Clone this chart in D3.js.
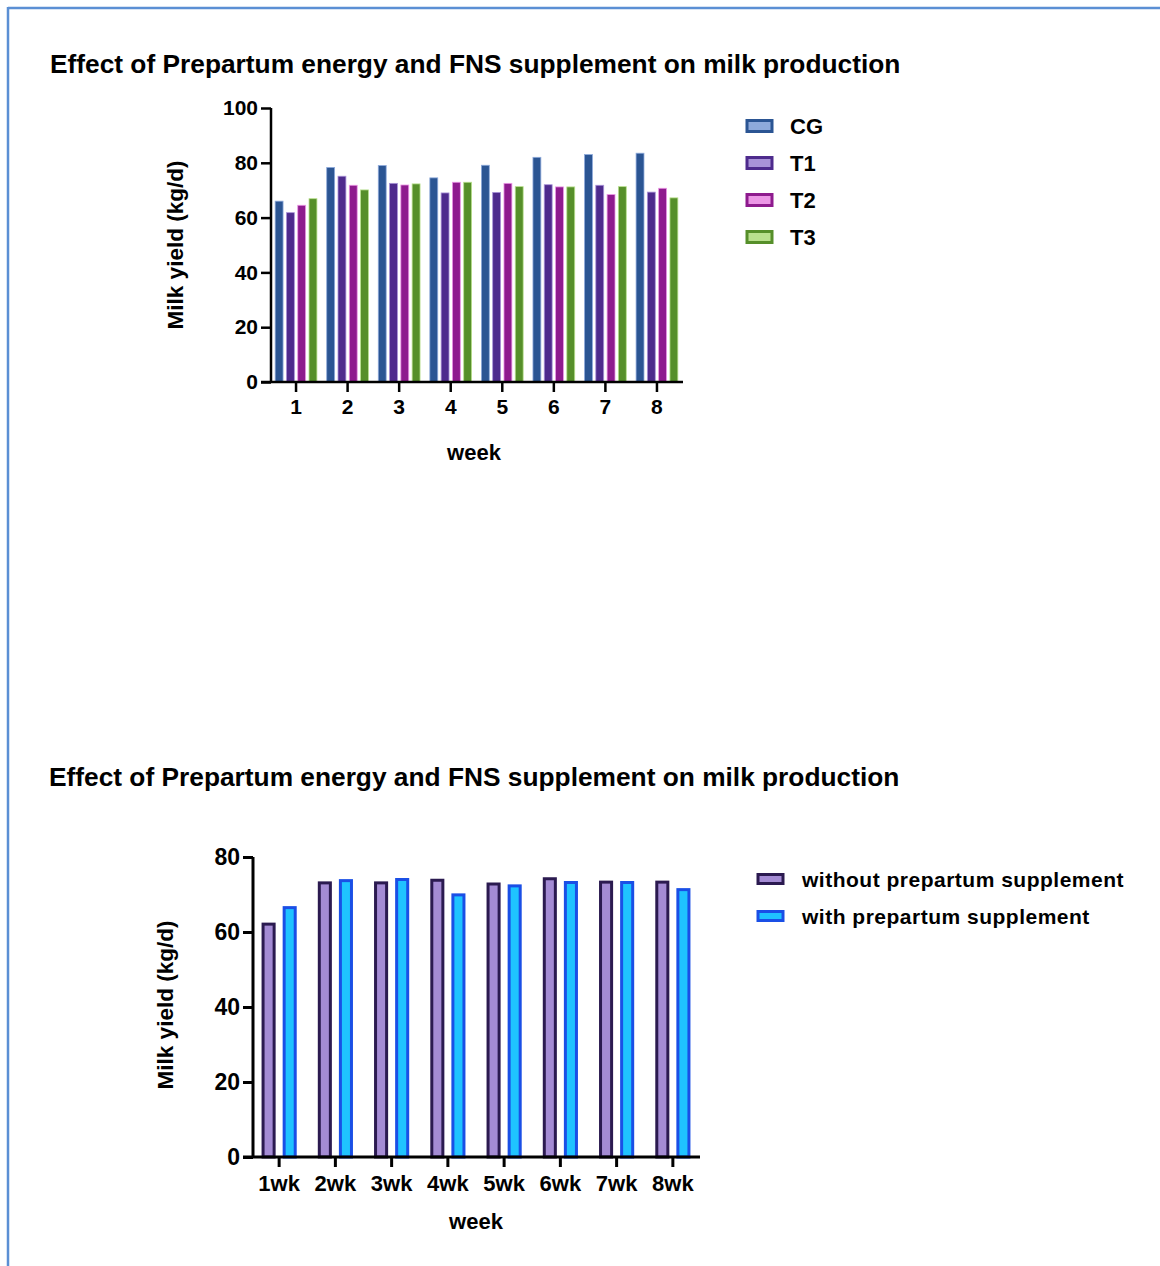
<!DOCTYPE html>
<html><head><meta charset="utf-8">
<script src="https://cdn.jsdelivr.net/npm/d3@7"></script>
<style>
body{margin:0;background:#fff;}
svg{display:block;font-family:"Liberation Sans",Arial,Helvetica,sans-serif;}
</style></head>
<body>
<svg id="c" width="1160" height="1266"></svg>
<script>
const titleText = "Effect of Prepartum energy and FNS supplement on milk production";
const weeks1 = ["1","2","3","4","5","6","7","8"];
const series1 = ["CG","T1","T2","T3"];
const cg = [66, 78.3, 79, 74.5, 79.1, 82, 83, 83.5];
const t1 = [61.8, 75.1, 72.5, 69, 69.2, 72, 71.8, 69.3];
const t2 = [64.5, 71.8, 71.9, 72.9, 72.5, 71.2, 68.4, 70.7];
const t3 = [66.9, 70.1, 72.3, 72.9, 71.3, 71.2, 71.3, 67.2];
const yTicks1 = [0,20,40,60,80,100];

const weeks2 = ["1wk","2wk","3wk","4wk","5wk","6wk","7wk","8wk"];
const series2 = ["without prepartum supplement","with prepartum supplement"];
const without = [62.5, 73.5, 73.5, 74.2, 73.2, 74.6, 73.7, 73.7];
const withSup = [66.9, 74.1, 74.4, 70.3, 72.7, 73.6, 73.6, 71.7];
const yTicks2 = [0,20,40,60,80];

const FONT = "Liberation Sans, Arial, sans-serif";
const svg = d3.select("#c");
const frame = "#5b8fd4";
svg.append("line").attr("x1",8).attr("x2",1160).attr("y1",8).attr("y2",8).attr("stroke",frame).attr("stroke-width",2.5);
svg.append("line").attr("x1",8).attr("x2",8).attr("y1",7).attr("y2",1266).attr("stroke",frame).attr("stroke-width",2.5);

function styleText(sel, size){
  sel.attr("font-size",size).attr("font-weight","bold").attr("fill","#000").attr("font-family",FONT);
}

// ---------- Chart 1 ----------
{
  const fills = ["#2b5593","#4e2b8d","#8e1b8e","#568f2a"];
  const lights = ["#8eaadb","#a993d8","#ec97e6","#b9e08e"];
  const data = [cg,t1,t2,t3];
  svg.append("text").attr("x",50).attr("y",73).attr("font-size",26.3).attr("font-weight","bold").text(titleText);
  const y = d3.scaleLinear().domain([0,100]).range([382,108]);
  const x0 = d3.scaleBand().domain(weeks1).range([270,683]).paddingInner(0.19).paddingOuter(0.1);
  const x1 = d3.scaleBand().domain(series1).range([0,x0.bandwidth()]).paddingInner(0.3);
  const g = svg.append("g");
  weeks1.forEach((w,i)=>{
    series1.forEach((s,j)=>{
      g.append("rect").attr("x",x0(w)+x1(s)).attr("width",x1.bandwidth())
        .attr("y",y(data[j][i])).attr("height",y(0)-y(data[j][i]))
        .attr("fill",fills[j]).attr("stroke",lights[j]).attr("stroke-width",0.8);
    });
  });
  const ya = svg.append("g").attr("transform","translate(271,0)")
    .call(d3.axisLeft(y).tickValues(yTicks1).tickSize(10).tickPadding(3));
  ya.select(".domain").attr("stroke","#000").attr("stroke-width",2.5).attr("d","M0,108V382");
  ya.selectAll(".tick line").attr("stroke","#000").attr("stroke-width",2.5);
  styleText(ya.selectAll("text"), 21);
  const xa = svg.append("g").attr("transform","translate(0,382)")
    .call(d3.axisBottom(x0).tickSize(10).tickPadding(7));
  xa.select(".domain").attr("stroke","#000").attr("stroke-width",2.5).attr("d","M261,0H683");
  xa.selectAll(".tick line").attr("stroke","#000").attr("stroke-width",2.5);
  styleText(xa.selectAll("text"), 21);
  svg.append("text").attr("transform","translate(175,245) rotate(-90)").attr("text-anchor","middle").attr("dy","0.35em")
    .attr("font-size",22.5).attr("font-weight","bold").text("Milk yield (kg/d)");
  svg.append("text").attr("x",474).attr("y",452).attr("dy","0.35em").attr("text-anchor","middle")
    .attr("font-size",22).attr("font-weight","bold").text("week");
  const ly = d3.scalePoint().domain(series1).range([126,237]);
  series1.forEach((s,j)=>{
    svg.append("rect").attr("x",747).attr("y",ly(s)-5.5).attr("width",25).attr("height",11)
      .attr("fill",lights[j]).attr("stroke",fills[j]).attr("stroke-width",3);
    svg.append("text").attr("x",790).attr("y",ly(s)).attr("dy","0.36em").attr("font-size",22).attr("font-weight","bold").text(s);
  });
}

// ---------- Chart 2 ----------
{
  const fills = ["#a48bd4","#1fc3ff"];
  const strokes = ["#2b1a50","#1a4fe6"];
  const data = [without, withSup];
  svg.append("text").attr("x",49).attr("y",786).attr("font-size",26.3).attr("font-weight","bold").text(titleText);
  const y = d3.scaleLinear().domain([0,80]).range([1157,857]);
  const x0 = d3.scaleBand().domain(weeks2).range([252,700]).paddingInner(0.375).paddingOuter(0.17);
  const x1 = d3.scaleBand().domain(series2).range([0,x0.bandwidth()]).paddingInner(0.333);
  const g = svg.append("g");
  weeks2.forEach((w,i)=>{
    series2.forEach((s,j)=>{
      const v = data[j][i];
      g.append("rect").attr("x",x0(w)+x1(s)+1.5).attr("width",x1.bandwidth()-3)
        .attr("y",y(v)+1.5).attr("height",y(0)-y(v)-1.5)
        .attr("fill",fills[j]).attr("stroke",strokes[j]).attr("stroke-width",3);
    });
  });
  const ya = svg.append("g").attr("transform","translate(253,0)")
    .call(d3.axisLeft(y).tickValues(yTicks2).tickSize(10).tickPadding(3));
  ya.select(".domain").attr("stroke","#000").attr("stroke-width",3).attr("d","M0,857V1157");
  ya.selectAll(".tick line").attr("stroke","#000").attr("stroke-width",3);
  styleText(ya.selectAll("text"), 23);
  const xa = svg.append("g").attr("transform","translate(0,1157)")
    .call(d3.axisBottom(x0).tickSize(10).tickPadding(8));
  xa.select(".domain").attr("stroke","#000").attr("stroke-width",3).attr("d","M243,0H700");
  xa.selectAll(".tick line").attr("stroke","#000").attr("stroke-width",3);
  styleText(xa.selectAll("text"), 22);
  svg.append("text").attr("transform","translate(165,1005) rotate(-90)").attr("text-anchor","middle").attr("dy","0.35em")
    .attr("font-size",22.5).attr("font-weight","bold").text("Milk yield (kg/d)");
  svg.append("text").attr("x",476).attr("y",1221).attr("dy","0.35em").attr("text-anchor","middle")
    .attr("font-size",22).attr("font-weight","bold").text("week");
  const ly = d3.scalePoint().domain(series2).range([879,916]);
  series2.forEach((s,j)=>{
    svg.append("rect").attr("x",758).attr("y",ly(s)-4.5).attr("width",25).attr("height",9)
      .attr("fill",fills[j]).attr("stroke",strokes[j]).attr("stroke-width",3);
    svg.append("text").attr("x",802).attr("y",ly(s)).attr("dy","0.36em").attr("font-size",21).attr("font-weight","bold").attr("letter-spacing",0.5).text(s);
  });
}
</script>
</body></html>
